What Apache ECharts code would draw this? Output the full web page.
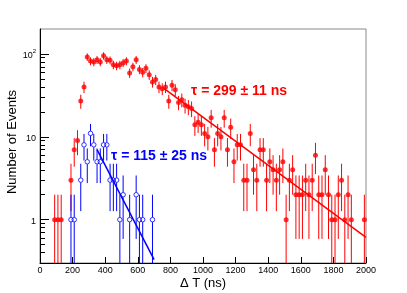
<!DOCTYPE html>
<html><head><meta charset="utf-8">
<script src="https://cdn.jsdelivr.net/npm/echarts@6/dist/echarts.min.js"></script>
<style>html,body{margin:0;padding:0;background:#fff}#c{width:407px;height:293px}</style>
</head><body><div id="c"></div>
<script>
// Red histogram (bin centres in ns, counts)
const redT = [90,110,130,190,210,230,250,270,290,310,330,350,370,390,410,430,450,470,490,510,530,550,570,590,610,630,650,670,690,710,730,750,770,790,810,830,850,870,890,910,930,950,970,990,1010,1030,1050,1070,1090,1110,1130,1150,1170,1190,1210,1230,1250,1270,1290,1310,1330,1350,1370,1390,1410,1430,1450,1470,1490,1510,1530,1550,1570,1590,1610,1630,1650,1670,1690,1710,1730,1750,1770,1790,1810,1830,1850,1870,1890,1910,1990];
const redN = [1,1,1,3,7,9,27,40,92,82,80,85,80,95,85,84,74,72,74,78,82,59,70,85,65,60,67,56,46,49,40,38,40,27,42,37,26,28,24,23,22,14,15,14,11,10,17,7,11,10,17,7,13,5,8,8,3,3,11,4,3,7,7,3,5,4,3,4,5,1,3,4,2,2,2,3,2,3,6,2,2,4,2,1,1,2,3,1,2,1,1];
// Blue histogram
const blueT = [190,210,250,270,290,310,330,350,370,390,410,430,450,470,490,510,550,590,610,630,690];
const blueN = [1,1,3,8,5,11,8,5,5,8,8,3,3,3,1,2,1,2,1,1,1];
// Fit lines (end points)
const redFitT = [760, 2000];
const redFitY = [38.5, 0.61];
const blueFitT = [350, 700];
const blueFitY = [7.0, 0.33];
// Axis ticks
const xTicks = [0,200,400,600,800,1000,1200,1400,1600,1800,2000];
const yMajor = [1,10,100];
const yMinor = [0.4,0.5,0.6,0.7,0.8,0.9,2,3,4,5,6,7,8,9,20,30,40,50,60,70,80,90];
const redLabel = 'τ = 299 ± 11 ns';
const blueLabel = 'τ = 115 ± 25 ns';
const yTitle = 'Number of Events';
const xTitle = 'Δ T (ns)';

const RED = '#ff0000', BLUE = '#0000ff';
const FONT = '"Liberation Sans", Arial, Helvetica, sans-serif';

function errData(T, N) {
  return T.map((t, i) => [t, Math.max(N[i] - Math.sqrt(N[i]), 0.01), N[i] + Math.sqrt(N[i]), N[i]]);
}
function errBar(color, gap) {
  return function (params, api) {
    const x = api.value(0), lo = api.value(1), hi = api.value(2), v = api.value(3);
    const cs = params.coordSys;
    const bottom = cs.y + cs.height;
    const pm = api.coord([x, v]);
    let yLo = api.coord([x, lo])[1];
    if (!isFinite(yLo) || yLo > bottom) yLo = bottom;
    let yHi = Math.max(api.coord([x, hi])[1], cs.y);
    const style = { stroke: color, lineWidth: 1 };
    if (!gap) {
      return { type: 'line', shape: { x1: pm[0], y1: yHi, x2: pm[0], y2: yLo }, style: style };
    }
    return { type: 'group', children: [
      { type: 'line', shape: { x1: pm[0], y1: yHi, x2: pm[0], y2: pm[1] - gap }, style: style },
      { type: 'line', shape: { x1: pm[0], y1: pm[1] + gap, x2: pm[0], y2: yLo }, style: style }
    ]};
  };
}

const chart = echarts.init(document.getElementById('c'), null, { renderer: 'canvas' });
chart.setOption({
  animation: false,
  backgroundColor: '#fff',
  grid: { left: 40, right: 41, top: 29, bottom: 30, show: true, borderColor: '#888', borderWidth: 1,
          containLabel: false, outerBoundsMode: 'none' },
  xAxis: {
    type: 'value', min: 0, max: 2000, interval: 200,
    axisLine: { show: true, lineStyle: { color: '#000', width: 1 } },
    axisTick: { show: true, inside: true, length: 6, lineStyle: { color: '#000' }, customValues: xTicks },
    axisLabel: { fontSize: 9, color: '#000', margin: 3, fontFamily: FONT, customValues: xTicks,
                 formatter: function (v) { return String(v); } },
    splitLine: { show: false }
  },
  yAxis: [{
    type: 'log', logBase: 10, min: 0.3, max: 200,
    axisLine: { show: true, lineStyle: { color: '#000', width: 1 } },
    axisTick: { show: true, inside: true, length: 9, lineStyle: { color: '#000' }, customValues: yMajor },
    axisLabel: {
      customValues: yMajor, color: '#000', margin: 4, fontFamily: FONT,
      formatter: function (v) { return v >= 99 ? '{b|10}{s|2}' : '{b|' + (v >= 9 ? '10' : '1') + '}'; },
      rich: {
        b: { fontSize: 9, fontFamily: FONT, color: '#000', lineHeight: 12, verticalAlign: 'bottom' },
        s: { fontSize: 6, fontFamily: FONT, color: '#000', lineHeight: 12, verticalAlign: 'top' }
      }
    },
    splitLine: { show: false }
  }, {
    type: 'log', logBase: 10, min: 0.3, max: 200, position: 'left',
    axisLine: { show: false },
    axisTick: { show: true, inside: true, length: 5, lineStyle: { color: '#000' }, customValues: yMinor },
    axisLabel: { show: false },
    splitLine: { show: false }
  }],
  series: [
    { type: 'custom', renderItem: errBar(RED, 0), data: errData(redT, redN), encode: { x: 0, y: [1, 2, 3] }, z: 2, clip: true },
    { type: 'scatter', data: redT.map((t, i) => [t, redN[i]]), symbol: 'circle', symbolSize: 5, itemStyle: { color: RED }, z: 3 },
    { type: 'custom', renderItem: errBar(BLUE, 2.4), data: errData(blueT, blueN), encode: { x: 0, y: [1, 2, 3] }, z: 4, clip: true },
    { type: 'scatter', data: blueT.map((t, i) => [t, blueN[i]]), symbol: 'circle', symbolSize: 4.5,
      itemStyle: { color: 'rgba(0,0,0,0)', borderColor: BLUE, borderWidth: 1 }, z: 5 },
    { type: 'line', data: redFitT.map((t, i) => [t, redFitY[i]]), showSymbol: false, lineStyle: { color: RED, width: 1.5 }, z: 6 },
    { type: 'line', data: blueFitT.map((t, i) => [t, blueFitY[i]]), showSymbol: false, lineStyle: { color: BLUE, width: 1.5 }, z: 6 }
  ],
  graphic: [
    { type: 'text', left: 191, top: 84, z: 10, style: { text: redLabel, fill: RED, font: 'bold 14px ' + FONT } },
    { type: 'text', left: 111, top: 149, z: 10, style: { text: blueLabel, fill: BLUE, font: 'bold 14px ' + FONT } },
    { type: 'text', x: 12, y: 142, rotation: Math.PI / 2, z: 10,
      style: { text: yTitle, fill: '#000', font: '13px ' + FONT, align: 'center', verticalAlign: 'middle' } },
    { type: 'text', x: 203, y: 283, z: 10,
      style: { text: xTitle, fill: '#000', font: '13px ' + FONT, align: 'center', verticalAlign: 'middle' } }
  ]
});
</script>
</body></html>
